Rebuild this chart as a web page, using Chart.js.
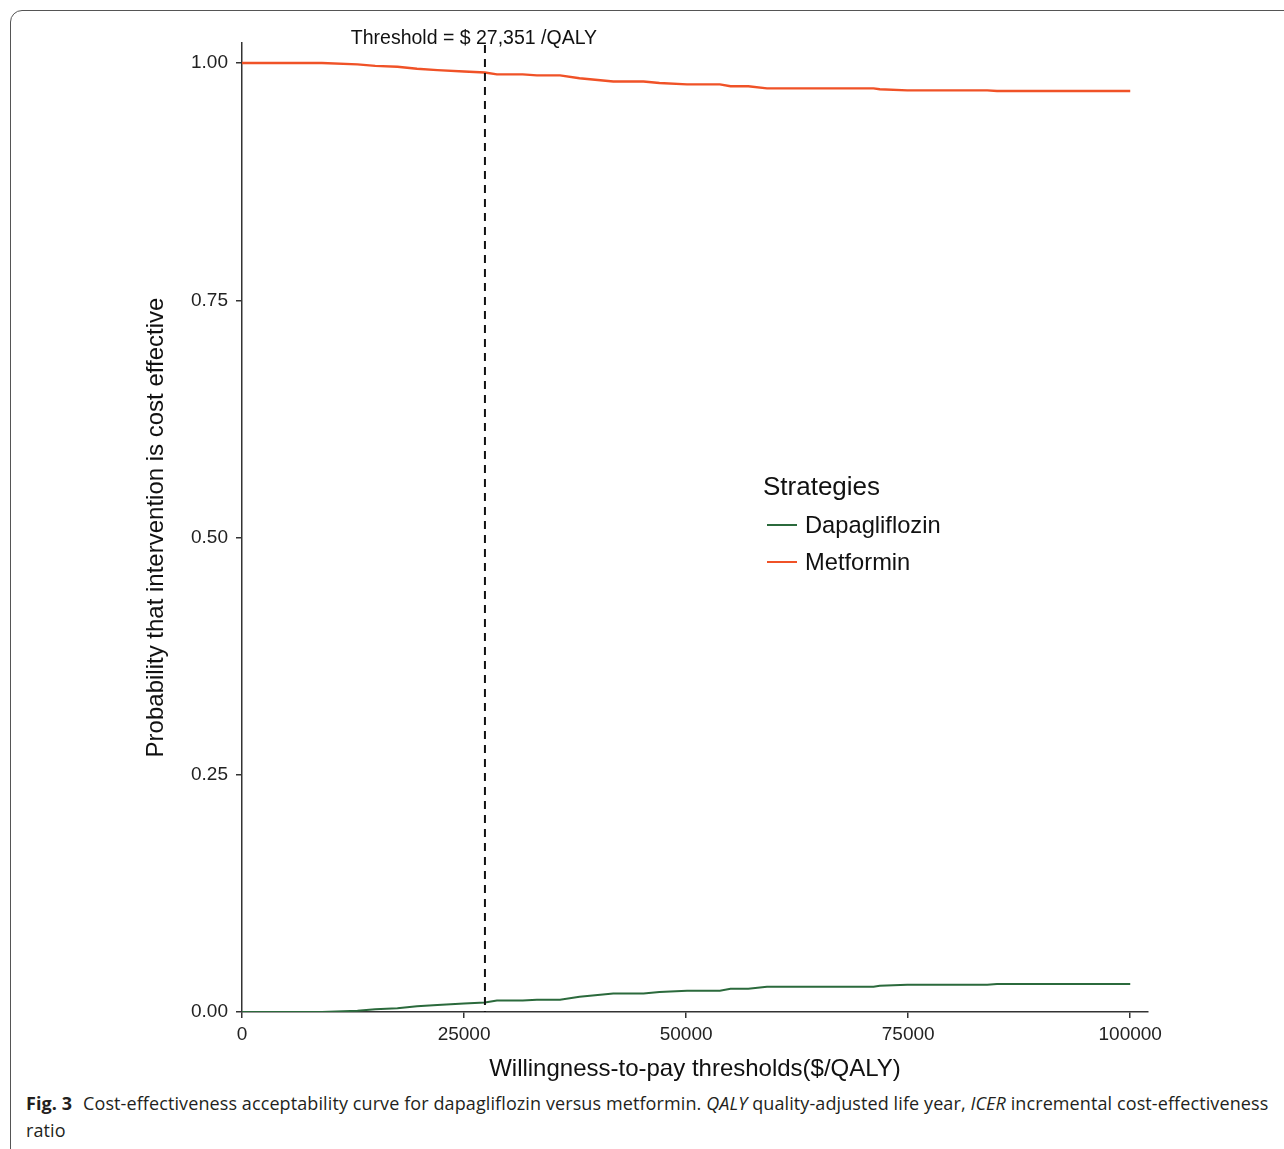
<!DOCTYPE html>
<html>
<head>
<meta charset="utf-8">
<script src="https://cdn.jsdelivr.net/npm/chart.js@4.4.1/dist/chart.umd.min.js"></script>
<style>
  html, body { margin: 0; padding: 0; background: #fff; }
  body { width: 1284px; height: 1149px; position: relative; overflow: hidden; }
  .frame {
    position: absolute; left: 10px; top: 10px; width: 1320px; height: 1200px;
    border: 1px solid #555; border-radius: 12px; box-sizing: border-box;
  }
  #wrap { position: absolute; left: 0; top: 0; width: 1284px; height: 1088px; }
  .caption {
    position: absolute; left: 26px; top: 1090px; width: 1254px;
    font-family: "Open Sans", sans-serif; font-size: 18px; line-height: 27px;
    color: #231f20; letter-spacing: 0.1px;
  }
  .caption b { font-weight: 700; margin-right: 6px; }
</style>
</head>
<body>
<div class="frame"></div>
<div id="wrap"><canvas id="myChart"></canvas></div>
<div class="caption"><b>Fig. 3</b> Cost-effectiveness acceptability curve for dapagliflozin versus metformin. <i>QALY</i> quality-adjusted life year, <i>ICER</i> incremental cost-effectiveness ratio</div>

<script>
// willingness-to-pay values ($/QALY)
const wtp = [0, 9000, 13000, 15000, 17500, 19700, 22000, 25000, 27350, 28700, 31600, 33200, 35800, 38000,
  41800, 45200, 47000, 50100, 53800, 55000, 57000, 59100, 71100, 71800, 74900, 83900, 85000, 100000];
const dapagliflozin = [0, 0, 0.0014, 0.003, 0.004, 0.006, 0.0075, 0.009, 0.010, 0.012, 0.012, 0.013, 0.013, 0.016,
  0.0195, 0.0195, 0.021, 0.0225, 0.0225, 0.0245, 0.0245, 0.0267, 0.0267, 0.0277, 0.0288, 0.0288, 0.0295, 0.0295];
const metformin = [1, 1, 0.9986, 0.997, 0.996, 0.994, 0.9925, 0.991, 0.990, 0.988, 0.988, 0.987, 0.987, 0.984,
  0.9805, 0.9805, 0.979, 0.9775, 0.9775, 0.9755, 0.9755, 0.9733, 0.9733, 0.9723, 0.9712, 0.9712, 0.9705, 0.9705];
const xTicks = [0, 25000, 50000, 75000, 100000];
const yTicks = [0, 0.25, 0.5, 0.75, 1];
const threshold = 27351;
const thresholdLabel = 'Threshold = $ 27,351 /QALY';
const legendTitle = 'Strategies';

const FONT = '"Liberation Sans", Arial, sans-serif';
const AXIS = '#333';

function toPoints(ys) {
  return wtp.map((x, i) => ({ x: x, y: ys[i] }));
}

// dashed threshold line + its label
const thresholdPlugin = {
  id: 'threshold',
  afterDatasetsDraw(chart) {
    const { ctx, scales, chartArea } = chart;
    const px = scales.x.getPixelForValue(threshold);
    ctx.save();
    ctx.strokeStyle = '#111';
    ctx.lineWidth = 2;
    ctx.setLineDash([8, 6]);
    ctx.beginPath();
    ctx.moveTo(px, chartArea.top + 2);
    ctx.lineTo(px, chartArea.bottom);
    ctx.stroke();
    ctx.setLineDash([]);
    ctx.fillStyle = '#111';
    ctx.font = '19.5px ' + FONT;
    ctx.textAlign = 'center';
    ctx.textBaseline = 'middle';
    ctx.fillText(thresholdLabel, px - 11, 38.5);
    ctx.restore();
  }
};

// legend drawn inside the plot like the ggplot one
const legendPlugin = {
  id: 'stratLegend',
  afterDraw(chart) {
    const { ctx } = chart;
    ctx.save();
    ctx.fillStyle = '#111';
    ctx.textBaseline = 'middle';
    ctx.textAlign = 'left';
    ctx.font = '26px ' + FONT;
    ctx.fillText(legendTitle, 763, 488);
    ctx.font = '23.7px ' + FONT;
    chart.data.datasets.forEach((ds, i) => {
      const y = 525 + i * 37;
      ctx.strokeStyle = ds.borderColor;
      ctx.lineWidth = 2;
      ctx.beginPath();
      ctx.moveTo(767, y);
      ctx.lineTo(797, y);
      ctx.stroke();
      ctx.fillStyle = '#111';
      ctx.fillText(ds.label, 805, y + 1);
    });
    ctx.restore();
  }
};

const ctx = document.getElementById('myChart').getContext('2d');

const myChart = new Chart(ctx, {
  type: 'line',
  data: {
    datasets: [
      {
        label: 'Dapagliflozin',
        data: toPoints(dapagliflozin),
        borderColor: '#2b6a3c',
        borderWidth: 2,
        pointRadius: 0,
        tension: 0,
        fill: false,
      },
      {
        label: 'Metformin',
        data: toPoints(metformin),
        borderColor: '#f05227',
        borderWidth: 2.4,
        pointRadius: 0,
        tension: 0,
        fill: false,
      },
    ],
  },
  options: {
    responsive: true,
    maintainAspectRatio: false,
    animation: false,
    layout: { padding: { left: 138, top: 43, right: 136, bottom: 0 } },
    plugins: {
      legend: { display: false },
      tooltip: { enabled: false },
    },
    scales: {
      x: {
        type: 'linear',
        min: 0,
        max: 102000,
        afterBuildTicks: (scale) => { scale.ticks = xTicks.map((v) => ({ value: v })); },
        afterFit: (scale) => { scale.height = 76; },
        ticks: {
          color: '#222',
          font: { family: FONT, size: 19 },
          padding: 5,
          maxRotation: 0,
          callback: (v) => String(v),
        },
        grid: { drawOnChartArea: false, drawTicks: true, tickLength: 6, color: AXIS, lineWidth: 1.5 },
        border: { display: true, color: AXIS, width: 1.5 },
        title: {
          display: true,
          text: 'Willingness-to-pay thresholds($/QALY)',
          color: '#111',
          font: { family: FONT, size: 24 },
          padding: { top: 4, bottom: 4 },
        },
      },
      y: {
        min: 0,
        max: 1.0211,
        afterBuildTicks: (scale) => { scale.ticks = yTicks.map((v) => ({ value: v })); },
        afterFit: (scale) => { scale.width = 104; },
        ticks: {
          color: '#222',
          font: { family: FONT, size: 19 },
          padding: 8,
          callback: (v) => v.toFixed(2),
        },
        grid: { drawOnChartArea: false, drawTicks: true, tickLength: 6, color: AXIS, lineWidth: 1.5 },
        border: { display: true, color: AXIS, width: 1.5 },
        title: {
          display: true,
          text: 'Probability that intervention is cost effective',
          color: '#111',
          font: { family: FONT, size: 24 },
          padding: { top: 4, bottom: 4 },
        },
      },
    },
  },
  plugins: [thresholdPlugin, legendPlugin],
});
</script>
</body>
</html>
